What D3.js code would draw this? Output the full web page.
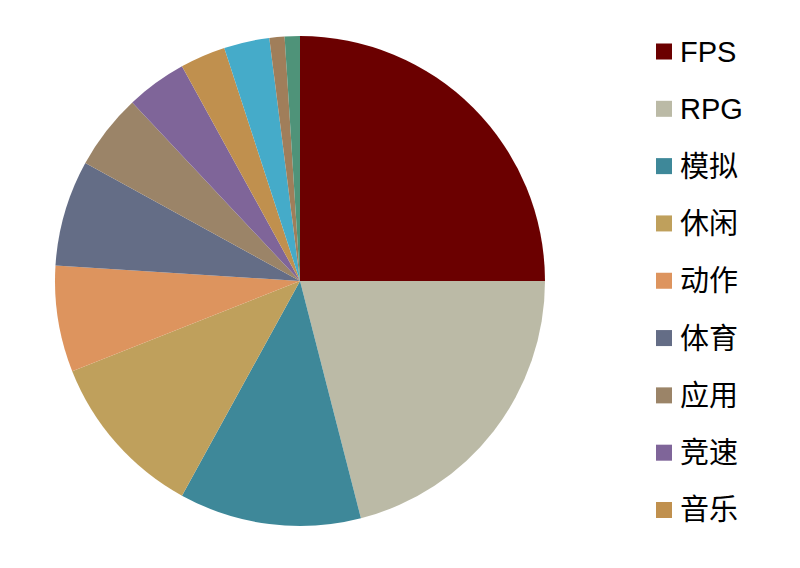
<!DOCTYPE html>
<html>
<head>
<meta charset="utf-8">
<script src="https://cdn.jsdelivr.net/npm/d3@7"></script>
<style>
  body { margin: 0; background: #fff; }
  svg { display: block; }
  .legend text { font-family: "Liberation Sans", Arial, "Noto Sans CJK SC", sans-serif; font-size: 29px; fill: #000; }
</style>
</head>
<body>
<div id="chart"></div>
<script>
var widthT = 800, heightT = 568;

// data (share in %, clockwise from 12 o'clock)
var categories = ["FPS", "RPG", "模拟", "休闲", "动作", "体育", "应用", "竞速", "音乐", "其他1", "其他2", "其他3"];
var shares = [25, 21, 12, 11, 7, 7, 5, 4, 3, 3, 1, 1];
var colors = ["#6B0000", "#BBBAA6", "#3E8899", "#BFA05C", "#DD945E", "#646D86",
              "#9B8468", "#7F6599", "#C0904E", "#45ABC9", "#A07E5A", "#4F9379"];
var legendCount = 9; // only first nine show in legend

var cx = 300, cy = 281, radius = 245;

var svg = d3.select("#chart")
    .append("svg")
    .attr("width", widthT)
    .attr("height", heightT);

var data = categories.map(function(c, i) { return {name: c, value: shares[i], color: colors[i]}; });

var pie = d3.pie()
    .sort(null)
    .value(function(d) { return d.value; });

var arc = d3.arc()
    .innerRadius(0)
    .outerRadius(radius);

var g = svg.append("g").attr("transform", "translate(" + cx + "," + cy + ")");

g.selectAll("path.slice")
    .data(pie(data))
    .enter().append("path")
    .attr("class", "slice")
    .attr("fill", function(d) { return d.data.color; })
    .attr("d", arc);

// legend
var ly = d3.scalePoint()
    .domain(categories.slice(0, legendCount))
    .range([51.5, 510]);

var legend = svg.append("g").attr("class", "legend");

var item = legend.selectAll("g")
    .data(data.slice(0, legendCount))
    .enter().append("g")
    .attr("transform", function(d) { return "translate(656," + ly(d.name) + ")"; });

item.append("rect")
    .attr("x", 0)
    .attr("y", -8)
    .attr("width", 16)
    .attr("height", 16)
    .attr("fill", function(d) { return d.color; });

item.append("text")
    .attr("x", 24)
    .attr("y", 0)
    .attr("dy", "0.36em")
    .text(function(d) { return d.name; });
</script>
</body>
</html>
